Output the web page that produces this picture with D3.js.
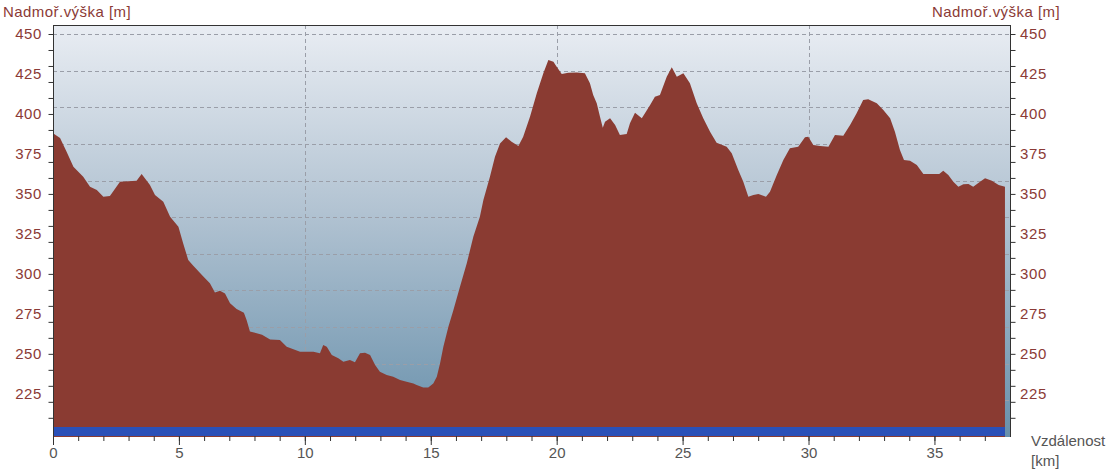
<!DOCTYPE html>
<html>
<head>
<meta charset="utf-8">
<script src="https://cdn.jsdelivr.net/npm/d3@7"></script>
<style>
  html, body { margin: 0; padding: 0; background: #ffffff; }
  svg { display: block; font-family: "Liberation Sans", Arial, sans-serif; }
</style>
</head>
<body>
<svg id="chart" width="1110" height="470"></svg>
<script>
// ---- data ----
const distanceKm = [0, 0.28, 0.54, 0.81, 1.20, 1.47, 1.74, 2.00, 2.26, 2.66, 3.32, 3.52, 3.85, 4.05, 4.38, 4.65, 4.98, 5.17, 5.37, 5.57, 5.97, 6.23, 6.43, 6.63, 6.83, 7.03, 7.29, 7.58, 7.69, 7.82, 8.30, 8.62, 9.01, 9.28, 9.81, 10.34, 10.60, 10.73, 10.87, 11.07, 11.33, 11.53, 11.79, 11.99, 12.19, 12.39, 12.59, 12.79, 12.98, 13.25, 13.51, 13.78, 14.04, 14.31, 14.44, 14.70, 14.90, 15.10, 15.24, 15.37, 15.50, 15.70, 15.90, 16.16, 16.43, 16.69, 16.95, 17.09, 17.35, 17.55, 17.75, 17.99, 18.21, 18.48, 18.67, 18.94, 19.21, 19.47, 19.67, 19.87, 20.00, 20.20, 20.46, 20.80, 21.12, 21.32, 21.45, 21.59, 21.72, 21.83, 21.92, 22.12, 22.32, 22.51, 22.78, 22.91, 23.11, 23.38, 23.71, 23.90, 24.10, 24.37, 24.57, 24.77, 25.03, 25.29, 25.56, 25.82, 26.09, 26.35, 26.75, 26.95, 27.21, 27.41, 27.61, 27.81, 28.01, 28.31, 28.47, 28.74, 29.00, 29.26, 29.59, 29.86, 29.99, 30.19, 30.46, 30.79, 31.05, 31.38, 31.65, 31.91, 32.17, 32.37, 32.71, 32.97, 33.24, 33.43, 33.63, 33.79, 34.03, 34.30, 34.56, 34.96, 35.19, 35.35, 35.55, 35.75, 35.95, 36.15, 36.35, 36.54, 36.81, 37.01, 37.28, 37.55, 37.80];
const elevationM = [388, 385, 376.4, 367, 360.8, 354.5, 352.4, 348.2, 348.7, 357.6, 358.3, 362.4, 355.6, 349.3, 345.1, 335.7, 329.5, 319, 308.7, 305.1, 298.3, 294.1, 288.3, 289.5, 287.8, 281.6, 278, 275.7, 271, 264, 262, 259, 258.6, 254.4, 251.3, 251.3, 250.3, 255.5, 254.4, 249.2, 247.2, 245.1, 246.1, 244.7, 250.3, 250.7, 249.2, 243, 238.8, 236.7, 235.7, 233.6, 232.6, 231.5, 230.5, 229, 229, 231.5, 235.7, 244.1, 254.4, 267, 277.4, 292, 306.6, 323.2, 335.7, 346.2, 360.8, 373.3, 381.6, 385.4, 382.7, 380, 385.8, 398.3, 412.9, 425.4, 433.7, 432.7, 429.5, 425, 425.8, 426, 425.4, 419.2, 411.9, 406.7, 398.3, 391.4, 395.2, 397.3, 393.1, 386.8, 387.5, 394.2, 400.8, 397.3, 405.6, 410.8, 411.9, 423.3, 429.2, 423.3, 425.4, 419.2, 406.7, 397.3, 388.9, 382, 379.5, 375.4, 364.9, 357.6, 348.2, 349.3, 349.9, 348.2, 351.4, 361.8, 371.2, 378.5, 379.5, 385.4, 385.8, 380.6, 380, 379.5, 386.8, 386.4, 393.1, 400.4, 408.7, 409.2, 406.7, 402.5, 397.3, 388.9, 377.5, 371.2, 370.8, 368.1, 362.4, 362.4, 362.4, 364.5, 361.8, 357.6, 354.5, 356, 356.2, 354.5, 357.6, 359.8, 358.3, 355.6, 354.5];
const yLabelValues = [225, 250, 275, 300, 325, 350, 375, 400, 425, 450];
const yMinorTicks = [210, 220, 230, 240, 250, 260, 270, 280, 290, 300, 310, 320, 330, 340, 350, 360, 370, 380, 390, 400, 410, 420, 430, 440, 450];
const xLabelValues = [0, 5, 10, 15, 20, 25, 30, 35];
const xMinorTicks = d3.range(0, 38, 1);
const xGridValues = [10, 20, 30];
const yAxisTitle = "Nadmoř.výška [m]";
const xAxisTitle = ["Vzdálenost", "[km]"];

// ---- layout ----
const pLeft = 53, pRight = 1010, pTop = 25, pBottom = 437;
const svg = d3.select("#chart");
const x = d3.scaleLinear().domain([0, 38]).range([pLeft, pRight]);
const y = d3.scaleLinear().domain([198, 450]).range([pBottom, 34]);
const data = distanceKm.map((d, i) => ({ d, e: elevationM[i] }));

// background gradient
const defs = svg.append("defs");
const grad = defs.append("linearGradient").attr("id", "bg")
  .attr("x1", 0).attr("y1", 0).attr("x2", 0).attr("y2", 1);
grad.append("stop").attr("offset", "0%").attr("stop-color", "#e9edf3");
grad.append("stop").attr("offset", "45%").attr("stop-color", "#b2c3d2");
grad.append("stop").attr("offset", "100%").attr("stop-color", "#6890ab");

svg.append("rect").attr("x", pLeft).attr("y", pTop)
  .attr("width", pRight - pLeft).attr("height", pBottom - pTop)
  .attr("fill", "url(#bg)");

// grid lines
const gridCount = 11;
const gridVals = d3.range(0, gridCount).map(k => 450 - k * (450 - 198) / gridCount);
svg.append("g").selectAll("line").data(gridVals).join("line")
  .attr("x1", pLeft).attr("x2", pRight)
  .attr("y1", d => Math.round(y(d)) + 0.5).attr("y2", d => Math.round(y(d)) + 0.5)
  .attr("stroke", "#9a9ea8").attr("stroke-dasharray", "4,3").attr("stroke-width", 1);
svg.append("g").selectAll("line").data(xGridValues).join("line")
  .attr("x1", d => Math.round(x(d)) + 0.5).attr("x2", d => Math.round(x(d)) + 0.5)
  .attr("y1", pTop).attr("y2", pBottom)
  .attr("stroke", "#9a9ea8").attr("stroke-dasharray", "4,3").attr("stroke-width", 1);

// area
const area = d3.area().x(p => x(p.d)).y0(y(198)).y1(p => y(p.e)).curve(d3.curveLinear);
svg.append("path").datum(data).attr("d", area).attr("fill", "#8a3b32");

// blue band
svg.append("rect").attr("x", x(0)).attr("y", 427)
  .attr("width", x(distanceKm[distanceKm.length - 1]) - x(0)).attr("height", 9)
  .attr("fill", "#2a50b8");

// frame
svg.append("line").attr("x1", pLeft).attr("x2", pRight).attr("y1", pTop + 0.5).attr("y2", pTop + 0.5)
  .attr("stroke", "#333");

// left axis
const la = svg.append("g").attr("transform", `translate(${pLeft + 0.5},0)`);
la.call(d3.axisLeft(y).tickValues(yMinorTicks).tickSize(5).tickFormat("").tickSizeOuter(0));
la.select(".domain").attr("d", `M0,${pTop}V${pBottom}`).attr("stroke", "#333");
la.selectAll(".tick line").attr("stroke", "#333");
const laL = svg.append("g").attr("transform", `translate(${pLeft},0)`);
laL.call(d3.axisLeft(y).tickValues(yLabelValues).tickSize(0).tickPadding(11));
laL.select(".domain").remove();
laL.selectAll("text").attr("fill", "#8b3a36").style("font-size", "15px")
  .style("letter-spacing", "0.6px")
  .style("font-family", "Liberation Sans, Arial, sans-serif");

// right axis
const ra = svg.append("g").attr("transform", `translate(${pRight + 0.5},0)`);
ra.call(d3.axisRight(y).tickValues(yMinorTicks).tickSize(5).tickFormat("").tickSizeOuter(0));
ra.select(".domain").attr("d", `M0,${pTop}V${pBottom}`).attr("stroke", "#333");
ra.selectAll(".tick line").attr("stroke", "#333");
const raL = svg.append("g").attr("transform", `translate(${pRight},0)`);
raL.call(d3.axisRight(y).tickValues(yLabelValues).tickSize(0).tickPadding(10));
raL.select(".domain").remove();
raL.selectAll("text").attr("fill", "#8b3a36").style("font-size", "15px")
  .style("letter-spacing", "0.6px")
  .style("font-family", "Liberation Sans, Arial, sans-serif");

// bottom axis
const ba = svg.append("g").attr("transform", `translate(0,${pBottom - 1})`);
ba.call(d3.axisBottom(x).tickValues(xMinorTicks).tickSize(5).tickFormat("").tickSizeOuter(0));
ba.select(".domain").remove();
ba.selectAll(".tick line").attr("stroke", "#333");
const baL = svg.append("g").attr("transform", `translate(0,${pBottom - 1})`);
baL.call(d3.axisBottom(x).tickValues(xLabelValues).tickSize(9).tickPadding(2));
baL.select(".domain").remove();
baL.selectAll(".tick line").attr("stroke", "#333");
baL.selectAll("text").attr("fill", "#555").style("font-size", "15px")
  .style("font-family", "Liberation Sans, Arial, sans-serif");

// titles
svg.append("text").attr("x", 3).attr("y", 17).text(yAxisTitle)
  .attr("fill", "#8b3a36").style("font-size", "15px").style("letter-spacing", "0.45px");
svg.append("text").attr("x", 932).attr("y", 17).text(yAxisTitle)
  .attr("fill", "#8b3a36").style("font-size", "15px").style("letter-spacing", "0.45px");
svg.append("text").attr("x", 1031).attr("y", 446).text(xAxisTitle[0])
  .attr("fill", "#555").style("font-size", "15px");
svg.append("text").attr("x", 1031).attr("y", 466).text(xAxisTitle[1])
  .attr("fill", "#555").style("font-size", "15px");
</script>
</body>
</html>
